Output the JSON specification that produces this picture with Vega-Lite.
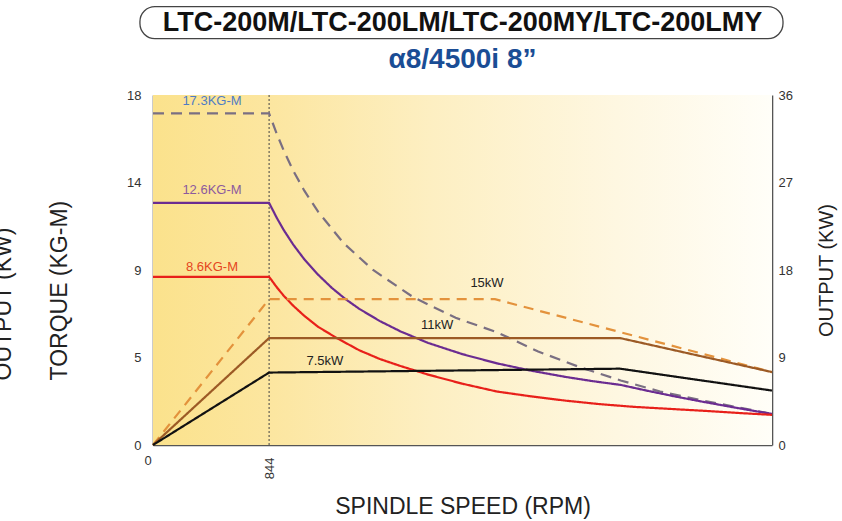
{
  "$schema": "https://vega.github.io/schema/vega-lite/v6.json",
  "width": 619,
  "height": 350,
  "autosize": {"type": "none"},
  "padding": {"left": 153, "top": 95, "right": 70, "bottom": 76},
  "background": "white",
  "datasets": {
    "torque": [
      {"s": "T17", "rpm": 0, "v": 17.05}, {"s": "T17", "rpm": 844, "v": 17.05}, {"s": "T17", "rpm": 900, "v": 16.0},
      {"s": "T17", "rpm": 950, "v": 15.15}, {"s": "T17", "rpm": 1020, "v": 14.1}, {"s": "T17", "rpm": 1100, "v": 13.08},
      {"s": "T17", "rpm": 1200, "v": 12.0}, {"s": "T17", "rpm": 1383, "v": 10.4}, {"s": "T17", "rpm": 1600, "v": 9.0},
      {"s": "T17", "rpm": 1892, "v": 7.6}, {"s": "T17", "rpm": 2200, "v": 6.54}, {"s": "T17", "rpm": 2500, "v": 5.8},
      {"s": "T17", "rpm": 2800, "v": 4.81}, {"s": "T17", "rpm": 3104, "v": 4.0}, {"s": "T17", "rpm": 3400, "v": 3.32},
      {"s": "T17", "rpm": 3687, "v": 2.75}, {"s": "T17", "rpm": 4000, "v": 2.28}, {"s": "T17", "rpm": 4500, "v": 1.6},
      {"s": "T12", "rpm": 0, "v": 12.45}, {"s": "T12", "rpm": 844, "v": 12.45}, {"s": "T12", "rpm": 900, "v": 11.68},
      {"s": "T12", "rpm": 950, "v": 11.06}, {"s": "T12", "rpm": 1020, "v": 10.3}, {"s": "T12", "rpm": 1100, "v": 9.55},
      {"s": "T12", "rpm": 1200, "v": 8.76}, {"s": "T12", "rpm": 1300, "v": 8.08}, {"s": "T12", "rpm": 1400, "v": 7.5},
      {"s": "T12", "rpm": 1500, "v": 7.0}, {"s": "T12", "rpm": 1650, "v": 6.37}, {"s": "T12", "rpm": 1800, "v": 5.84},
      {"s": "T12", "rpm": 2000, "v": 5.25}, {"s": "T12", "rpm": 2250, "v": 4.67}, {"s": "T12", "rpm": 2500, "v": 4.2},
      {"s": "T12", "rpm": 2750, "v": 3.82}, {"s": "T12", "rpm": 3000, "v": 3.5}, {"s": "T12", "rpm": 3200, "v": 3.28},
      {"s": "T12", "rpm": 3400, "v": 3.09}, {"s": "T12", "rpm": 3600, "v": 2.78}, {"s": "T12", "rpm": 3800, "v": 2.49},
      {"s": "T12", "rpm": 4000, "v": 2.22}, {"s": "T12", "rpm": 4250, "v": 1.9}, {"s": "T12", "rpm": 4500, "v": 1.6},
      {"s": "T8", "rpm": 0, "v": 8.65}, {"s": "T8", "rpm": 844, "v": 8.65}, {"s": "T8", "rpm": 900, "v": 8.11},
      {"s": "T8", "rpm": 950, "v": 7.68}, {"s": "T8", "rpm": 1020, "v": 7.16}, {"s": "T8", "rpm": 1100, "v": 6.64},
      {"s": "T8", "rpm": 1200, "v": 6.08}, {"s": "T8", "rpm": 1336, "v": 5.5}, {"s": "T8", "rpm": 1500, "v": 4.87},
      {"s": "T8", "rpm": 1650, "v": 4.42}, {"s": "T8", "rpm": 1800, "v": 4.06}, {"s": "T8", "rpm": 2000, "v": 3.62},
      {"s": "T8", "rpm": 2250, "v": 3.15}, {"s": "T8", "rpm": 2500, "v": 2.75}, {"s": "T8", "rpm": 2750, "v": 2.5},
      {"s": "T8", "rpm": 3000, "v": 2.28}, {"s": "T8", "rpm": 3250, "v": 2.1}, {"s": "T8", "rpm": 3500, "v": 1.96},
      {"s": "T8", "rpm": 3750, "v": 1.86}, {"s": "T8", "rpm": 4000, "v": 1.76}, {"s": "T8", "rpm": 4250, "v": 1.65},
      {"s": "T8", "rpm": 4500, "v": 1.55}
    ],
    "power": [
      {"s": "P15", "rpm": 0, "kw": 0}, {"s": "P15", "rpm": 844, "kw": 15}, {"s": "P15", "rpm": 2486, "kw": 15}, {"s": "P15", "rpm": 4500, "kw": 7.5},
      {"s": "P11", "rpm": 0, "kw": 0}, {"s": "P11", "rpm": 844, "kw": 11}, {"s": "P11", "rpm": 3395, "kw": 11}, {"s": "P11", "rpm": 4500, "kw": 7.5},
      {"s": "P7", "rpm": 0, "kw": 0}, {"s": "P7", "rpm": 844, "kw": 7.45}, {"s": "P7", "rpm": 3395, "kw": 7.85}, {"s": "P7", "rpm": 4500, "kw": 5.6}
    ],
    "labels": [
      {"t": "17.3KG-M", "rpm": 429, "v": 17.7},
      {"t": "12.6KG-M", "rpm": 429, "v": 13.1},
      {"t": "8.6KG-M", "rpm": 429, "v": 9.15},
      {"t": "15kW", "rpm": 2428, "v": 8.33},
      {"t": "11kW", "rpm": 2065, "v": 6.17},
      {"t": "7.5kW", "rpm": 1250, "v": 4.32}
    ],
    "headings": [
      {"t": "LTC-200M/LTC-200LM/LTC-200MY/LTC-200LMY", "rpm": 2250, "v": 21.7},
      {"t": "α8/4500i 8”", "rpm": 2250, "v": 19.8}
    ]
  },
  "resolve": {"scale": {"y": "independent"}},
  "layer": [
    {
      "layer": [
        {
          "data": {"values": [{}]},
          "mark": {"type": "rect", "fill": {"gradient": "linear", "x1": 0, "y1": 0, "x2": 1, "y2": 0, "stops": [
            {"offset": 0, "color": "#fbe28c"}, {"offset": 0.19, "color": "#fce6a0"}, {"offset": 0.45, "color": "#fdefc2"},
            {"offset": 0.75, "color": "#fef7e1"}, {"offset": 1, "color": "#fffef8"}]}},
          "encoding": {
            "x": {"datum": 0, "type": "quantitative", "scale": {"domain": [0, 4500], "nice": false, "zero": false},
                  "axis": {"values": [844], "labelAngle": -90, "labelPadding": 12, "title": "SPINDLE SPEED (RPM)", "titlePadding": 17, "titleFontSize": 23}},
            "x2": {"datum": 4500},
            "y": {"datum": 0, "type": "quantitative", "scale": {"domain": [0, 18], "nice": false},
                  "axis": {"orient": "left", "values": [0, 4.5, 9, 13.5, 18], "labelExpr": "round(datum.value)", "title": ["OUTPUT (KW)", "TORQUE (KG-M)"], "titleLineHeight": 56, "titlePadding": 55, "labelPadding": 12, "titleFontSize": 23, "titleAlign": "left", "titleY": 285}},
            "y2": {"datum": 18}
          }
        },
        {
          "data": {"values": [{}]},
          "mark": {"type": "rule", "color": "#444444", "strokeDash": [2, 2], "strokeWidth": 1},
          "encoding": {
            "x": {"datum": 844, "type": "quantitative", "scale": {"domain": [0, 4500], "nice": false, "zero": false},
                  "axis": {"values": [844], "labelAngle": -90, "labelPadding": 12, "title": "SPINDLE SPEED (RPM)", "titlePadding": 17, "titleFontSize": 23}}
          }
        },
        {
          "data": {"name": "torque"},
          "mark": {"type": "line", "strokeWidth": 2.2},
          "encoding": {
            "x": {"field": "rpm", "type": "quantitative", "scale": {"domain": [0, 4500], "nice": false, "zero": false},
                  "axis": {"values": [844], "labelAngle": -90, "labelPadding": 12, "title": "SPINDLE SPEED (RPM)", "titlePadding": 17, "titleFontSize": 23}},
            "y": {"field": "v", "type": "quantitative", "scale": {"domain": [0, 18], "nice": false},
                  "axis": {"orient": "left", "values": [0, 4.5, 9, 13.5, 18], "labelExpr": "round(datum.value)", "title": ["OUTPUT (KW)", "TORQUE (KG-M)"], "titleLineHeight": 56, "titlePadding": 55, "labelPadding": 12, "titleFontSize": 23, "titleAlign": "left", "titleY": 285}},
            "color": {"field": "s", "type": "nominal", "legend": null,
                      "scale": {"domain": ["T17", "T12", "T8", "P15", "P11", "P7"], "range": ["#7a6f82", "#6b2c91", "#e8201a", "#e3923c", "#9c5a25", "#111111"]}},
            "strokeDash": {"field": "s", "type": "nominal", "legend": null,
                      "scale": {"domain": ["T17", "T12", "T8", "P15", "P11", "P7"], "range": [[11, 7], [1, 0], [1, 0], [10, 7], [1, 0], [1, 0]]}},
            "order": {"field": "rpm", "type": "quantitative"}
          }
        },
        {
          "data": {"name": "labels"},
          "mark": {"type": "text", "font": "Liberation Sans", "fontSize": 13},
          "encoding": {
            "x": {"field": "rpm", "type": "quantitative", "scale": {"domain": [0, 4500], "nice": false, "zero": false},
                  "axis": {"values": [844], "labelAngle": -90, "labelPadding": 12, "title": "SPINDLE SPEED (RPM)", "titlePadding": 17, "titleFontSize": 23}},
            "y": {"field": "v", "type": "quantitative", "scale": {"domain": [0, 18], "nice": false},
                  "axis": {"orient": "left", "values": [0, 4.5, 9, 13.5, 18], "labelExpr": "round(datum.value)", "title": ["OUTPUT (KW)", "TORQUE (KG-M)"], "titleLineHeight": 56, "titlePadding": 55, "labelPadding": 12, "titleFontSize": 23, "titleAlign": "left", "titleY": 285}},
            "text": {"field": "t"},
            "fill": {"field": "t", "type": "nominal", "legend": null,
                     "scale": {"domain": ["17.3KG-M", "12.6KG-M", "8.6KG-M", "15kW", "11kW", "7.5kW", "LTC-200M/LTC-200LM/LTC-200MY/LTC-200LMY", "α8/4500i 8”"], "range": ["#4f7cc4", "#8c5a9e", "#e5461e", "#222222", "#222222", "#222222", "#111111", "#1a4d95"]}}
          }
        },
        {
          "data": {"values": [{}]},
          "mark": {"type": "text", "text": "0", "font": "Liberation Sans", "fontSize": 13, "color": "#333333", "dx": -5, "dy": 16},
          "encoding": {
            "x": {"datum": 0, "type": "quantitative", "scale": {"domain": [0, 4500], "nice": false, "zero": false},
                  "axis": {"values": [844], "labelAngle": -90, "labelPadding": 12, "title": "SPINDLE SPEED (RPM)", "titlePadding": 17, "titleFontSize": 23}},
            "y": {"datum": 0, "type": "quantitative", "scale": {"domain": [0, 18], "nice": false},
                  "axis": {"orient": "left", "values": [0, 4.5, 9, 13.5, 18], "labelExpr": "round(datum.value)", "title": ["OUTPUT (KW)", "TORQUE (KG-M)"], "titleLineHeight": 56, "titlePadding": 55, "labelPadding": 12, "titleFontSize": 23, "titleAlign": "left", "titleY": 285}}
          }
        },
        {
          "data": {"values": [{}]},
          "mark": {"type": "rect", "fill": null, "stroke": "#444444", "strokeWidth": 1.3, "cornerRadius": 15},
          "encoding": {
            "x": {"datum": -95, "type": "quantitative", "scale": {"domain": [0, 4500], "nice": false, "zero": false},
                  "axis": {"values": [844], "labelAngle": -90, "labelPadding": 12, "title": "SPINDLE SPEED (RPM)", "titlePadding": 17, "titleFontSize": 23}},
            "x2": {"datum": 4580},
            "y": {"datum": 22.55, "type": "quantitative", "scale": {"domain": [0, 18], "nice": false},
                  "axis": {"orient": "left", "values": [0, 4.5, 9, 13.5, 18], "labelExpr": "round(datum.value)", "title": ["OUTPUT (KW)", "TORQUE (KG-M)"], "titleLineHeight": 56, "titlePadding": 55, "labelPadding": 12, "titleFontSize": 23, "titleAlign": "left", "titleY": 285}},
            "y2": {"datum": 20.9}
          }
        },
        {
          "data": {"name": "headings"},
          "mark": {"type": "text", "font": "Liberation Sans", "fontWeight": "bold", "baseline": "middle"},
          "encoding": {
            "x": {"field": "rpm", "type": "quantitative", "scale": {"domain": [0, 4500], "nice": false, "zero": false},
                  "axis": {"values": [844], "labelAngle": -90, "labelPadding": 12, "title": "SPINDLE SPEED (RPM)", "titlePadding": 17, "titleFontSize": 23}},
            "y": {"field": "v", "type": "quantitative", "scale": {"domain": [0, 18], "nice": false},
                  "axis": {"orient": "left", "values": [0, 4.5, 9, 13.5, 18], "labelExpr": "round(datum.value)", "title": ["OUTPUT (KW)", "TORQUE (KG-M)"], "titleLineHeight": 56, "titlePadding": 55, "labelPadding": 12, "titleFontSize": 23, "titleAlign": "left", "titleY": 285}},
            "text": {"field": "t"},
            "size": {"field": "t", "type": "nominal", "legend": null,
                     "scale": {"domain": ["LTC-200M/LTC-200LM/LTC-200MY/LTC-200LMY", "α8/4500i 8”"], "range": [27, 28]}},
            "fill": {"field": "t", "type": "nominal", "legend": null,
                     "scale": {"domain": ["17.3KG-M", "12.6KG-M", "8.6KG-M", "15kW", "11kW", "7.5kW", "LTC-200M/LTC-200LM/LTC-200MY/LTC-200LMY", "α8/4500i 8”"], "range": ["#4f7cc4", "#8c5a9e", "#e5461e", "#222222", "#222222", "#222222", "#111111", "#1a4d95"]}}
          }
        }
      ]
    },
    {
      "data": {"name": "power"},
      "mark": {"type": "line", "strokeWidth": 2.2},
      "encoding": {
        "x": {"field": "rpm", "type": "quantitative", "scale": {"domain": [0, 4500], "nice": false, "zero": false},
              "axis": {"values": [844], "labelAngle": -90, "labelPadding": 12, "title": "SPINDLE SPEED (RPM)", "titlePadding": 17, "titleFontSize": 23}},
        "y": {"field": "kw", "type": "quantitative", "scale": {"domain": [0, 36], "nice": false},
              "axis": {"orient": "right", "values": [0, 9, 18, 27, 36], "title": "OUTPUT (KW)", "titleAngle": -90, "titleBaseline": "top", "titlePadding": 24, "labelPadding": 6, "titleFontSize": 20}},
        "color": {"field": "s", "type": "nominal", "legend": null,
                  "scale": {"domain": ["T17", "T12", "T8", "P15", "P11", "P7"], "range": ["#7a6f82", "#6b2c91", "#e8201a", "#e3923c", "#9c5a25", "#111111"]}},
        "strokeDash": {"field": "s", "type": "nominal", "legend": null,
                  "scale": {"domain": ["T17", "T12", "T8", "P15", "P11", "P7"], "range": [[11, 7], [1, 0], [1, 0], [10, 7], [1, 0], [1, 0]]}},
        "order": {"field": "rpm", "type": "quantitative"}
      }
    }
  ],
  "config": {
    "view": {"stroke": null},
    "axis": {
      "labelFont": "Liberation Sans", "labelFontSize": 13, "labelColor": "#333333",
      "titleFont": "Liberation Sans", "titleFontSize": 17, "titleFontWeight": "normal", "titleColor": "#222222",
      "domainColor": "#555555", "domainWidth": 1.6, "grid": false, "ticks": false
    }
  }
}
